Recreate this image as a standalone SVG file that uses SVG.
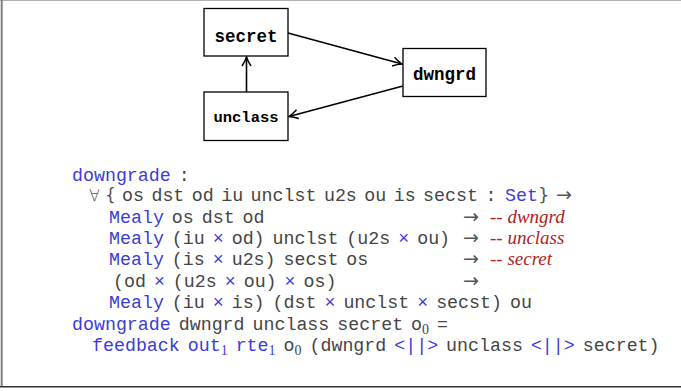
<svg xmlns="http://www.w3.org/2000/svg" width="681" height="391" viewBox="0 0 681 391">
<defs>
<marker id="arr" viewBox="0 0 12 12" refX="10.5" refY="6" markerWidth="12" markerHeight="12" markerUnits="userSpaceOnUse" orient="auto">
<path d="M1.5,1.5 Q6,4.5 10.5,6 Q6,7.5 1.5,10.5" fill="none" stroke="#000" stroke-width="1.4"/>
</marker>
<style>
.box{fill:#fff;stroke:#000;stroke-width:1.3}
.lbl{font-family:"Liberation Mono",monospace;font-weight:bold;fill:#000;text-anchor:middle}
.edge{stroke:#000;stroke-width:1.6;fill:none;marker-end:url(#arr)}
.code{font-family:"Liberation Mono","Courier New",monospace;font-size:18.3px;fill:#454545;word-spacing:-3px}
.kw{fill:#3c3cd8}
.math{font-family:"DejaVu Sans",sans-serif;fill:#555}
.cm{font-family:"Liberation Serif",serif;font-style:italic;fill:#b22222;font-size:19px}
.sub{font-family:"Liberation Serif",serif;font-size:14px}
</style>
</defs>
<rect width="681" height="391" fill="#fff"/>
<line x1="0" y1="0.5" x2="681" y2="0.5" stroke="#b0b0b0" stroke-width="1"/>
<line x1="1.7" y1="0" x2="1.7" y2="387" stroke="#808080" stroke-width="2"/>
<line x1="0" y1="386.8" x2="681" y2="386.8" stroke="#333" stroke-width="1.5"/>

<g id="connectors">
<line class="edge" x1="288" y1="33" x2="402" y2="64"/>
<line class="edge" x1="403" y1="86" x2="289" y2="116.5"/>
<line class="edge" x1="246.5" y1="92" x2="246.5" y2="57"/>
</g>
<g id="secret">
<rect class="box" x="204" y="8.5" width="84" height="47.5"/>
<text class="lbl" x="246" y="42" font-size="17.5">secret</text>
</g>
<g id="unclass">
<rect class="box" x="204" y="92" width="84" height="48.5"/>
<text class="lbl" x="246" y="122" font-size="15.5">unclass</text>
</g>
<g id="dwngrd">
<rect class="box" x="403" y="48.5" width="83" height="48"/>
<text class="lbl" x="444.5" y="79.5" font-size="17.5">dwngrd</text>
</g>

<g id="code">
<text class="code" x="72" y="181"><tspan class="kw">downgrade</tspan> :</text>

<text class="math" x="89" y="201" font-size="16" font-weight="300">∀</text>
<text class="math" x="105" y="201" font-size="17">{</text>
<text class="code" x="122" y="201" style="word-spacing:-3.5px">os dst od iu unclst u2s ou is secst :</text>
<text class="code" x="505" y="201"><tspan class="kw">Set</tspan></text>
<text class="math" x="538" y="201" font-size="18">}</text>
<text class="math" x="556" y="201" font-size="19">→</text>

<text class="code" x="109" y="223"><tspan class="kw">Mealy</tspan> os dst od</text>
<text class="math" x="463" y="223" font-size="19">→</text>
<text class="cm" x="490" y="223">-- dwngrd</text>

<text class="code" x="109" y="244"><tspan class="kw">Mealy</tspan> (iu <tspan class="kw">×</tspan> od) unclst (u2s <tspan class="kw">×</tspan> ou)</text>
<text class="math" x="463" y="244" font-size="19">→</text>
<text class="cm" x="490" y="244">-- unclass</text>

<text class="code" x="109" y="265"><tspan class="kw">Mealy</tspan> (is <tspan class="kw">×</tspan> u2s) secst os</text>
<text class="math" x="463" y="265" font-size="19">→</text>
<text class="cm" x="490" y="265">-- secret</text>

<text class="code" x="113" y="287">(od <tspan class="kw">×</tspan> (u2s <tspan class="kw">×</tspan> ou) <tspan class="kw">×</tspan> os)</text>
<text class="math" x="463" y="287" font-size="19">→</text>

<text class="code" x="109" y="308"><tspan class="kw">Mealy</tspan> (iu <tspan class="kw">×</tspan> is) (dst <tspan class="kw">×</tspan> unclst <tspan class="kw">×</tspan> secst) ou</text>

<text class="code" x="72" y="330"><tspan class="kw">downgrade</tspan> dwngrd unclass secret o<tspan class="sub" dy="4">0</tspan><tspan dy="-4"> =</tspan></text>

<text class="code" x="92" y="351"><tspan class="kw">feedback out</tspan><tspan class="kw sub" dy="4">1</tspan><tspan class="kw" dy="-4"> rte</tspan><tspan class="kw sub" dy="4">1</tspan><tspan dy="-4"> o</tspan><tspan class="sub" dy="4">0</tspan><tspan dy="-4"> (dwngrd </tspan><tspan class="kw">&lt;||&gt;</tspan> unclass <tspan class="kw">&lt;||&gt;</tspan> secret)</text>
</g>
</svg>
